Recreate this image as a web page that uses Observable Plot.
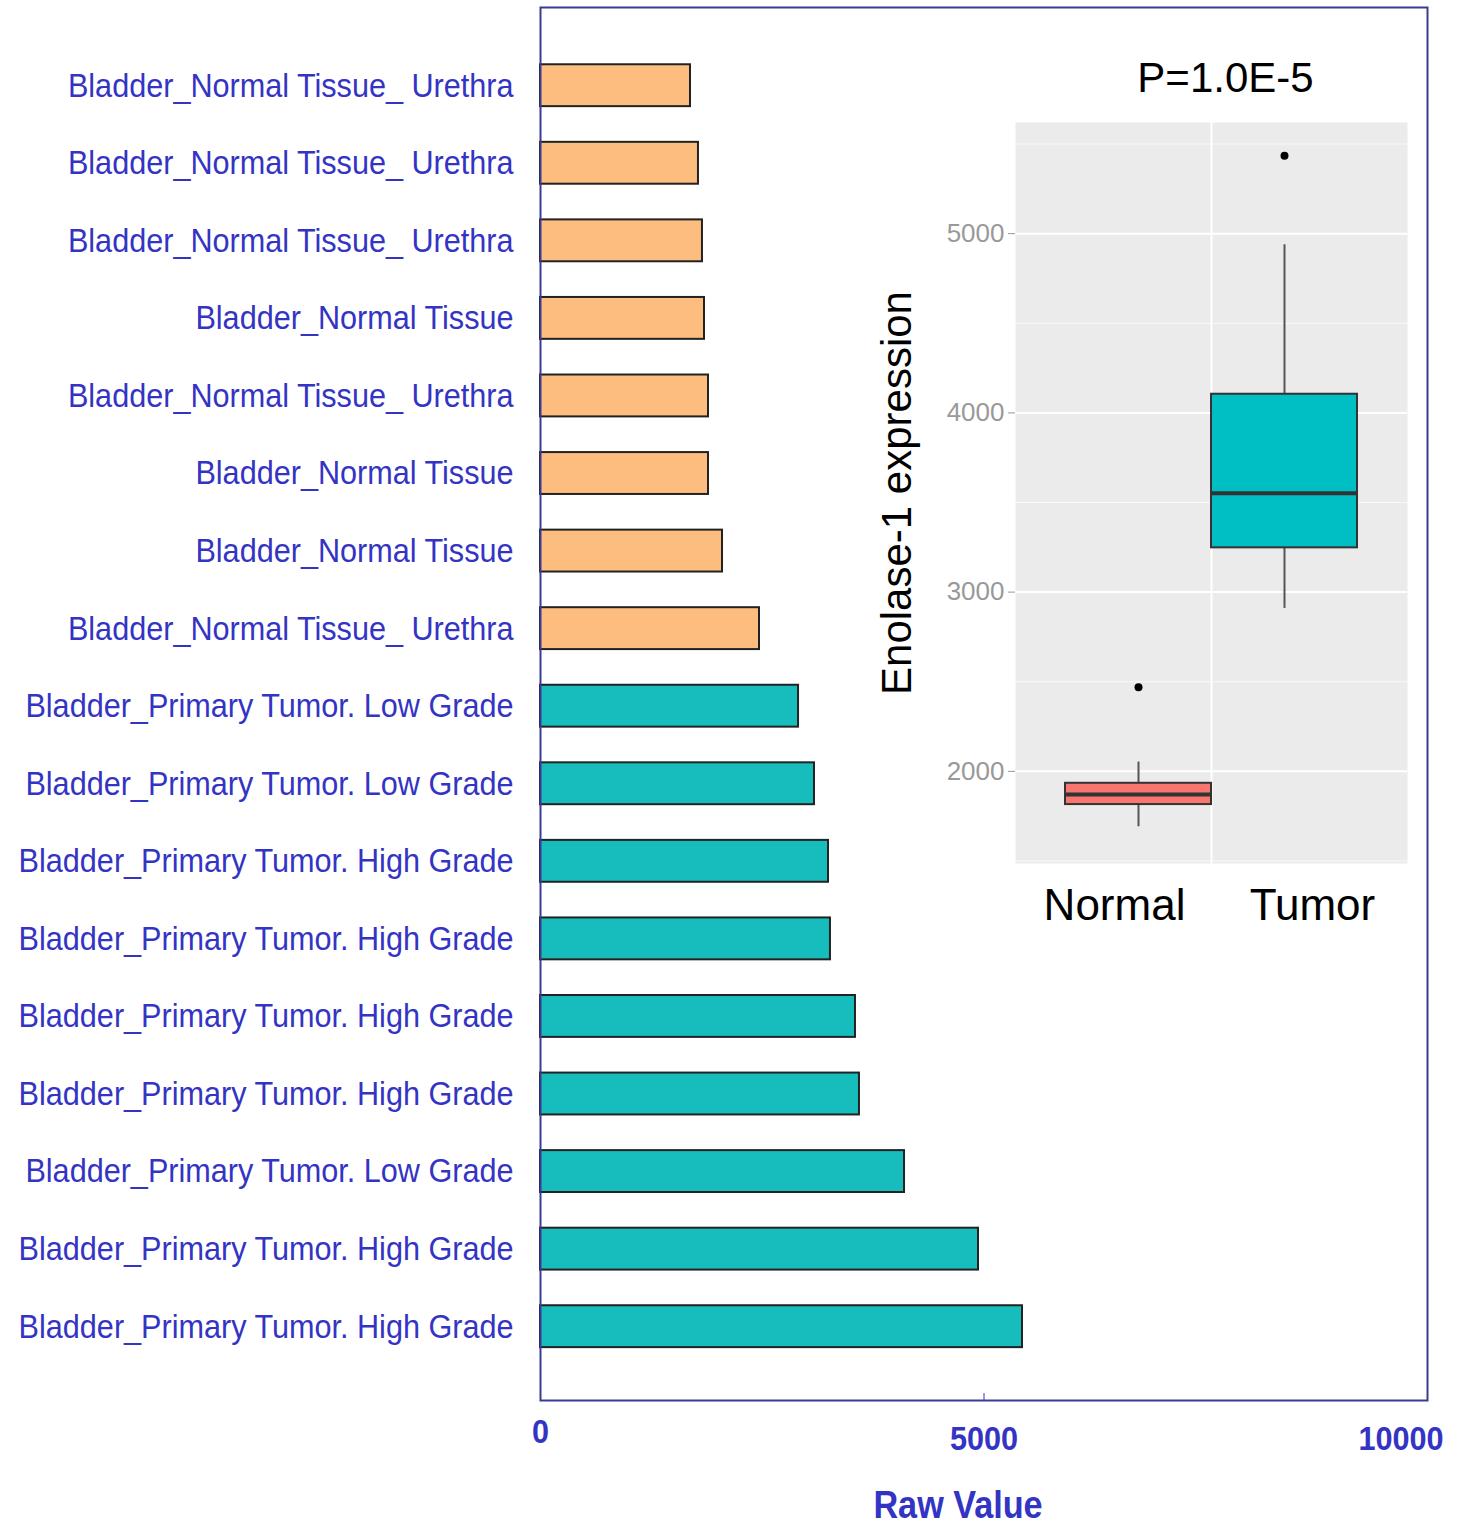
<!DOCTYPE html>
<html><head><meta charset="utf-8">
<script src="https://cdn.jsdelivr.net/npm/d3@7"></script>
<script src="https://cdn.jsdelivr.net/npm/@observablehq/plot@0.6"></script>
<style>
body{margin:0;background:#fff;}
#wrap{position:relative;width:1460px;height:1523px;font-family:"Liberation Sans",Arial,sans-serif;}
#inset{position:absolute;left:850px;top:30px;}
</style></head><body><div id="wrap"><div id="main"></div><div id="inset"></div></div>
<script>
// ---- data ----
const labels = [
  "Bladder_Normal Tissue_ Urethra",
  "Bladder_Normal Tissue_ Urethra",
  "Bladder_Normal Tissue_ Urethra",
  "Bladder_Normal Tissue",
  "Bladder_Normal Tissue_ Urethra",
  "Bladder_Normal Tissue",
  "Bladder_Normal Tissue",
  "Bladder_Normal Tissue_ Urethra",
  "Bladder_Primary Tumor. Low Grade",
  "Bladder_Primary Tumor. Low Grade",
  "Bladder_Primary Tumor. High Grade",
  "Bladder_Primary Tumor. High Grade",
  "Bladder_Primary Tumor. High Grade",
  "Bladder_Primary Tumor. High Grade",
  "Bladder_Primary Tumor. Low Grade",
  "Bladder_Primary Tumor. High Grade",
  "Bladder_Primary Tumor. High Grade"
];
const values = [1691, 1781, 1826, 1849, 1894, 1894, 2052, 2469, 2909, 3089, 3247, 3269, 3551, 3596, 4104, 4938, 5434];
const groups = ["Normal","Normal","Normal","Normal","Normal","Normal","Normal","Normal",
                "Tumor","Tumor","Tumor","Tumor","Tumor","Tumor","Tumor","Tumor","Tumor"];
const groupNames = ["Normal", "Tumor"];
const xDomain = [0, 10000];
const xTicks = [0, 5000, 10000];
const xLabel = "Raw Value";
const insetDomain = [1486, 5620];
const insetTicks = [2000, 3000, 4000, 5000];
const insetMinor = [1500, 2500, 3500, 4500, 5500];
const pTitle = "P=1.0E-5";
const insetYLabel = "Enolase-1 expression";

// ---- derived tables ----
const rows = values.map((v, i) => ({i, label: labels[i], value: v, group: groups[i]}));
const stats = [];
const outliers = [];
for (const g of groupNames) {
  const vs = rows.filter(r => r.group === g).map(r => r.value).sort(d3.ascending);
  const q1 = d3.quantile(vs, 0.25), q3 = d3.quantile(vs, 0.75), med = d3.quantile(vs, 0.5);
  const iqr = q3 - q1, lf = q1 - 1.5 * iqr, uf = q3 + 1.5 * iqr;
  const inside = vs.filter(v => v >= lf && v <= uf);
  stats.push({group: g, q1, q3, median: med, lo: d3.min(inside), hi: d3.max(inside)});
  vs.filter(v => v < lf || v > uf).forEach(v => outliers.push({group: g, value: v}));
}

const blue = "#3434c4";
const font = "'Liberation Sans', Arial, sans-serif";
const fmt = d3.format("d");

// ---- main chart ----
const main = Plot.plot({
  width: 1460, height: 1523,
  marginTop: 7, marginRight: 33, marginBottom: 123, marginLeft: 540,
  style: {fontFamily: font, background: "white", overflow: "visible"},
  x: {domain: xDomain},
  y: {type: "band", domain: d3.range(labels.length), paddingInner: 0.46, paddingOuter: 0.71, align: 0.52, round: false},
  color: {domain: groupNames, range: ["#FDBD7F", "#17BDBD"]},
  marks: [
    Plot.barX(rows, {x: "value", y: "i", fill: "group", stroke: "#222", strokeWidth: 2}),
    Plot.frame({stroke: "#3b3b94", strokeWidth: 2}),
    Plot.axisY({tickSize: 0, tickPadding: 27, tickFormat: i => labels[i], fontSize: 34, color: blue, label: null}),
    Plot.axisX({ticks: [xTicks[0]], tickFormat: fmt, tickSize: 0, tickPadding: 18, fontSize: 34, fontWeight: "bold", color: blue, label: null}),
    Plot.axisX({ticks: [xTicks[1]], tickFormat: fmt, tickSize: -7, tickPadding: 32, fontSize: 34, fontWeight: "bold", color: blue, label: null}),
    Plot.axisX({ticks: [xTicks[2]], tickFormat: fmt, tickSize: 0, tickPadding: 25, fontSize: 34, fontWeight: "bold", color: blue, label: null, textAnchor: "end", dx: 16}),
    Plot.text([xLabel], {frameAnchor: "bottom", lineAnchor: "middle", textAnchor: "middle", dy: 105, dx: -26, fontSize: 38, fontWeight: "bold", fill: blue})
  ]
});
document.getElementById("main").appendChild(main);
main.querySelectorAll("text").forEach(t => {
  const L = t.getComputedTextLength();
  if (L > 0) { t.setAttribute("textLength", (L * 0.9).toFixed(1)); t.setAttribute("lengthAdjust", "spacingAndGlyphs"); }
});

// ---- inset boxplot ----
const iW = 590, iH = 920, iML = 165, iMR = 33, iInset = 50;
const halfStep = ((iW - iML - iMR) - 2 * iInset) / groupNames.length / 2;
const inset = Plot.plot({
  width: iW, height: iH,
  marginTop: 92, marginRight: iMR, marginBottom: 87, marginLeft: iML,
  style: {fontFamily: font, background: "transparent", color: "#999", overflow: "visible"},
  x: {type: "band", domain: groupNames, padding: 0, insetLeft: iInset, insetRight: iInset, axis: null},
  y: {domain: insetDomain},
  color: {domain: groupNames, range: ["#F8766D", "#00BFC4"]},
  marks: [
    Plot.frame({fill: "#EBEBEB", stroke: null}),
    Plot.ruleY(insetMinor, {stroke: "white", strokeWidth: 1, strokeOpacity: 0.7}),
    Plot.ruleY(insetTicks, {stroke: "white", strokeWidth: 2}),
    Plot.ruleX([groupNames[1]], {x: d => d, dx: -halfStep, stroke: "white", strokeWidth: 2}),
    Plot.axisY({ticks: insetTicks, tickFormat: fmt, tickSize: 7, tickPadding: 4, fontSize: 26, label: null}),
    Plot.ruleX(stats, {x: "group", y1: "lo", y2: "q1", stroke: "#555", strokeWidth: 2}),
    Plot.ruleX(stats, {x: "group", y1: "q3", y2: "hi", stroke: "#555", strokeWidth: 2}),
    Plot.barY(stats, {x: "group", y1: "q1", y2: "q3", fill: "group", stroke: "#333", strokeWidth: 2}),
    Plot.tickY(stats, {x: "group", y: "median", stroke: "#333", strokeWidth: 4}),
    Plot.dot(outliers, {x: "group", y: "value", r: 4, fill: "black", stroke: null}),
    Plot.text([pTitle], {frameAnchor: "top", lineAnchor: "middle", textAnchor: "middle", dy: -44, dx: 14, fontSize: 42, fill: "black"}),
    Plot.text([insetYLabel], {frameAnchor: "left", lineAnchor: "middle", textAnchor: "middle", rotate: -90, dx: -118, fontSize: 42, fill: "black"}),
    Plot.text([groupNames[0]], {x: d => d, frameAnchor: "bottom", lineAnchor: "middle", dy: 42, dx: -24, fontSize: 44, fill: "black"}),
    Plot.text([groupNames[1]], {x: d => d, frameAnchor: "bottom", lineAnchor: "middle", dy: 42, dx: 28, fontSize: 44, fill: "black"})
  ]
});
document.getElementById("inset").appendChild(inset);
</script>
</body></html>
